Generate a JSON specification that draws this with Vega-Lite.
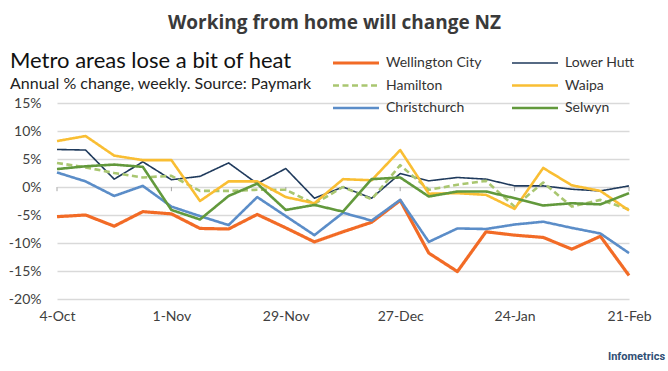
{
  "$schema": "https://vega.github.io/schema/vega-lite/v6.json",
  "width": 572,
  "height": 196,
  "autosize": "none",
  "padding": {"left": 57, "top": 103, "right": 39, "bottom": 72},
  "background": "white",
  "title": {
    "text": "Metro areas lose a bit of heat",
    "subtitle": "Annual % change, weekly. Source: Paymark",
    "anchor": "start",
    "frame": "group",
    "dx": -47,
    "dy": 86,
    "offset": 6,
    "font": "Lato",
    "fontSize": 22,
    "fontWeight": "normal",
    "color": "#111111",
    "subtitleFont": "Lato",
    "subtitleFontSize": 16,
    "subtitleColor": "#222222",
    "subtitlePadding": 3
  },
  "config": {
    "font": "Lato",
    "view": {"stroke": null},
    "axisY": {
      "tickCount": 8,
      "labelOverlap": false,
      "labelBound": false,
      "labelFlush": false,
      "grid": true,
      "gridColor": "#d9d9d9",
      "gridWidth": 1.3,
      "domain": false,
      "ticks": false,
      "labelPadding": 16,
      "labelFontSize": 14,
      "labelColor": "#404040",
      "labelFont": "Lato"
    }
  },
  "layer": [
    {
      "mark": {"type": "rule", "color": "#a6a6a6", "strokeWidth": 1.3},
      "encoding": {
        "y": {
          "datum": 0,
          "type": "quantitative",
          "scale": {"domain": [-20, 15], "nice": false, "zero": false},
          "axis": {
            "values": [-20, -15, -10, -5, 0, 5, 10, 15],
            "labelExpr": "datum.value + '%'",
            "title": "Working from home will change NZ",
            "titleAngle": 0,
            "titleX": 277,
            "titleY": -81,
            "titleAlign": "center",
            "titleBaseline": "middle",
            "titleFont": "Open Sans",
            "titleFontSize": 19,
            "titleFontWeight": "bold",
            "titleColor": "#3a3a3a"
          }
        }
      }
    },
    {
      "data": {"values": [
        {"date": "2020-10-04"}, {"date": "2020-11-01"}, {"date": "2020-11-29"},
        {"date": "2020-12-27"}, {"date": "2021-01-24"}, {"date": "2021-02-21"}
      ]},
      "mark": {"type": "rule", "color": "#a6a6a6", "strokeWidth": 1},
      "encoding": {
        "x": {"field": "date", "type": "temporal", "scale": {"type": "utc"}},
        "y": {"datum": 0, "type": "quantitative"},
        "y2": {"datum": -0.75}
      }
    },
    {
      "data": {"values": [
        {"date": "2020-10-04", "region": "Wellington City", "pct": -5.3},
        {"date": "2020-10-11", "region": "Wellington City", "pct": -5.0},
        {"date": "2020-10-18", "region": "Wellington City", "pct": -7.0},
        {"date": "2020-10-25", "region": "Wellington City", "pct": -4.4},
        {"date": "2020-11-01", "region": "Wellington City", "pct": -4.8},
        {"date": "2020-11-08", "region": "Wellington City", "pct": -7.4},
        {"date": "2020-11-15", "region": "Wellington City", "pct": -7.5},
        {"date": "2020-11-22", "region": "Wellington City", "pct": -4.9},
        {"date": "2020-11-29", "region": "Wellington City", "pct": -7.3},
        {"date": "2020-12-06", "region": "Wellington City", "pct": -9.8},
        {"date": "2020-12-13", "region": "Wellington City", "pct": -8.0},
        {"date": "2020-12-20", "region": "Wellington City", "pct": -6.3},
        {"date": "2020-12-27", "region": "Wellington City", "pct": -2.4},
        {"date": "2021-01-03", "region": "Wellington City", "pct": -11.8},
        {"date": "2021-01-10", "region": "Wellington City", "pct": -15.1},
        {"date": "2021-01-17", "region": "Wellington City", "pct": -8.0},
        {"date": "2021-01-24", "region": "Wellington City", "pct": -8.6},
        {"date": "2021-01-31", "region": "Wellington City", "pct": -9.0},
        {"date": "2021-02-07", "region": "Wellington City", "pct": -11.1},
        {"date": "2021-02-14", "region": "Wellington City", "pct": -8.8},
        {"date": "2021-02-21", "region": "Wellington City", "pct": -15.8},

        {"date": "2020-10-04", "region": "Lower Hutt", "pct": 6.7},
        {"date": "2020-10-11", "region": "Lower Hutt", "pct": 6.6},
        {"date": "2020-10-18", "region": "Lower Hutt", "pct": 1.4},
        {"date": "2020-10-25", "region": "Lower Hutt", "pct": 4.5},
        {"date": "2020-11-01", "region": "Lower Hutt", "pct": 1.3},
        {"date": "2020-11-08", "region": "Lower Hutt", "pct": 1.9},
        {"date": "2020-11-15", "region": "Lower Hutt", "pct": 4.3},
        {"date": "2020-11-22", "region": "Lower Hutt", "pct": 0.6},
        {"date": "2020-11-29", "region": "Lower Hutt", "pct": 3.3},
        {"date": "2020-12-06", "region": "Lower Hutt", "pct": -2.0},
        {"date": "2020-12-13", "region": "Lower Hutt", "pct": 0.0},
        {"date": "2020-12-20", "region": "Lower Hutt", "pct": -2.0},
        {"date": "2020-12-27", "region": "Lower Hutt", "pct": 2.4},
        {"date": "2021-01-03", "region": "Lower Hutt", "pct": 1.1},
        {"date": "2021-01-10", "region": "Lower Hutt", "pct": 1.7},
        {"date": "2021-01-17", "region": "Lower Hutt", "pct": 1.4},
        {"date": "2021-01-24", "region": "Lower Hutt", "pct": 0.2},
        {"date": "2021-01-31", "region": "Lower Hutt", "pct": 0.2},
        {"date": "2021-02-07", "region": "Lower Hutt", "pct": -0.4},
        {"date": "2021-02-14", "region": "Lower Hutt", "pct": -0.7},
        {"date": "2021-02-21", "region": "Lower Hutt", "pct": 0.2},

        {"date": "2020-10-04", "region": "Hamilton", "pct": 4.3},
        {"date": "2020-10-11", "region": "Hamilton", "pct": 3.5},
        {"date": "2020-10-18", "region": "Hamilton", "pct": 2.5},
        {"date": "2020-10-25", "region": "Hamilton", "pct": 1.7},
        {"date": "2020-11-01", "region": "Hamilton", "pct": 2.0},
        {"date": "2020-11-08", "region": "Hamilton", "pct": -0.7},
        {"date": "2020-11-15", "region": "Hamilton", "pct": -0.7},
        {"date": "2020-11-22", "region": "Hamilton", "pct": -0.5},
        {"date": "2020-11-29", "region": "Hamilton", "pct": -0.5},
        {"date": "2020-12-06", "region": "Hamilton", "pct": -3.0},
        {"date": "2020-12-13", "region": "Hamilton", "pct": 0.0},
        {"date": "2020-12-20", "region": "Hamilton", "pct": -2.2},
        {"date": "2020-12-27", "region": "Hamilton", "pct": 3.9},
        {"date": "2021-01-03", "region": "Hamilton", "pct": -0.5},
        {"date": "2021-01-10", "region": "Hamilton", "pct": 0.4},
        {"date": "2021-01-17", "region": "Hamilton", "pct": 1.1},
        {"date": "2021-01-24", "region": "Hamilton", "pct": -3.5},
        {"date": "2021-01-31", "region": "Hamilton", "pct": 0.8},
        {"date": "2021-02-07", "region": "Hamilton", "pct": -3.5},
        {"date": "2021-02-14", "region": "Hamilton", "pct": -2.3},
        {"date": "2021-02-21", "region": "Hamilton", "pct": -4.0},

        {"date": "2020-10-04", "region": "Waipa", "pct": 8.2},
        {"date": "2020-10-11", "region": "Waipa", "pct": 9.1},
        {"date": "2020-10-18", "region": "Waipa", "pct": 5.6},
        {"date": "2020-10-25", "region": "Waipa", "pct": 4.8},
        {"date": "2020-11-01", "region": "Waipa", "pct": 4.8},
        {"date": "2020-11-08", "region": "Waipa", "pct": -2.5},
        {"date": "2020-11-15", "region": "Waipa", "pct": 1.0},
        {"date": "2020-11-22", "region": "Waipa", "pct": 1.0},
        {"date": "2020-11-29", "region": "Waipa", "pct": -1.8},
        {"date": "2020-12-06", "region": "Waipa", "pct": -2.9},
        {"date": "2020-12-13", "region": "Waipa", "pct": 1.4},
        {"date": "2020-12-20", "region": "Waipa", "pct": 1.2},
        {"date": "2020-12-27", "region": "Waipa", "pct": 6.6},
        {"date": "2021-01-03", "region": "Waipa", "pct": -1.2},
        {"date": "2021-01-10", "region": "Waipa", "pct": -1.1},
        {"date": "2021-01-17", "region": "Waipa", "pct": -1.4},
        {"date": "2021-01-24", "region": "Waipa", "pct": -3.9},
        {"date": "2021-01-31", "region": "Waipa", "pct": 3.4},
        {"date": "2021-02-07", "region": "Waipa", "pct": 0.3},
        {"date": "2021-02-14", "region": "Waipa", "pct": -0.7},
        {"date": "2021-02-21", "region": "Waipa", "pct": -4.2},

        {"date": "2020-10-04", "region": "Christchurch", "pct": 2.6},
        {"date": "2020-10-11", "region": "Christchurch", "pct": 1.0},
        {"date": "2020-10-18", "region": "Christchurch", "pct": -1.6},
        {"date": "2020-10-25", "region": "Christchurch", "pct": 0.2},
        {"date": "2020-11-01", "region": "Christchurch", "pct": -3.5},
        {"date": "2020-11-08", "region": "Christchurch", "pct": -5.2},
        {"date": "2020-11-15", "region": "Christchurch", "pct": -6.8},
        {"date": "2020-11-22", "region": "Christchurch", "pct": -1.8},
        {"date": "2020-11-29", "region": "Christchurch", "pct": -5.2},
        {"date": "2020-12-06", "region": "Christchurch", "pct": -8.6},
        {"date": "2020-12-13", "region": "Christchurch", "pct": -4.6},
        {"date": "2020-12-20", "region": "Christchurch", "pct": -6.0},
        {"date": "2020-12-27", "region": "Christchurch", "pct": -2.3},
        {"date": "2021-01-03", "region": "Christchurch", "pct": -9.8},
        {"date": "2021-01-10", "region": "Christchurch", "pct": -7.4},
        {"date": "2021-01-17", "region": "Christchurch", "pct": -7.5},
        {"date": "2021-01-24", "region": "Christchurch", "pct": -6.7},
        {"date": "2021-01-31", "region": "Christchurch", "pct": -6.2},
        {"date": "2021-02-07", "region": "Christchurch", "pct": -7.3},
        {"date": "2021-02-14", "region": "Christchurch", "pct": -8.3},
        {"date": "2021-02-21", "region": "Christchurch", "pct": -11.8},

        {"date": "2020-10-04", "region": "Selwyn", "pct": 3.2},
        {"date": "2020-10-11", "region": "Selwyn", "pct": 3.7},
        {"date": "2020-10-18", "region": "Selwyn", "pct": 4.0},
        {"date": "2020-10-25", "region": "Selwyn", "pct": 3.6},
        {"date": "2020-11-01", "region": "Selwyn", "pct": -4.1},
        {"date": "2020-11-08", "region": "Selwyn", "pct": -5.8},
        {"date": "2020-11-15", "region": "Selwyn", "pct": -1.6},
        {"date": "2020-11-22", "region": "Selwyn", "pct": 0.6},
        {"date": "2020-11-29", "region": "Selwyn", "pct": -4.1},
        {"date": "2020-12-06", "region": "Selwyn", "pct": -3.2},
        {"date": "2020-12-13", "region": "Selwyn", "pct": -4.4},
        {"date": "2020-12-20", "region": "Selwyn", "pct": 1.4},
        {"date": "2020-12-27", "region": "Selwyn", "pct": 1.7},
        {"date": "2021-01-03", "region": "Selwyn", "pct": -1.7},
        {"date": "2021-01-10", "region": "Selwyn", "pct": -0.8},
        {"date": "2021-01-17", "region": "Selwyn", "pct": -0.8},
        {"date": "2021-01-24", "region": "Selwyn", "pct": -2.0},
        {"date": "2021-01-31", "region": "Selwyn", "pct": -3.3},
        {"date": "2021-02-07", "region": "Selwyn", "pct": -2.9},
        {"date": "2021-02-14", "region": "Selwyn", "pct": -3.1},
        {"date": "2021-02-21", "region": "Selwyn", "pct": -1.1}
      ]},
      "mark": {"type": "line", "strokeJoin": "round", "strokeCap": "butt"},
      "encoding": {
        "x": {
          "field": "date",
          "type": "temporal",
          "scale": {"type": "utc", "domain": [{"year": 2020, "month": 10, "date": 4, "utc": true}, {"year": 2021, "month": 2, "date": 21, "utc": true}]},
          "axis": {
            "values": [
              {"year": 2020, "month": 10, "date": 4, "utc": true},
              {"year": 2020, "month": 11, "date": 1, "utc": true},
              {"year": 2020, "month": 11, "date": 29, "utc": true},
              {"year": 2020, "month": 12, "date": 27, "utc": true},
              {"year": 2021, "month": 1, "date": 24, "utc": true},
              {"year": 2021, "month": 2, "date": 21, "utc": true}
            ],
            "format": "%-d-%b",
            "grid": false,
            "domain": false,
            "ticks": false,
            "labelPadding": 10,
            "labelFontSize": 14,
            "labelColor": "#404040",
            "labelFont": "Lato",
            "labelOverlap": false,
            "labelFlush": false,
            "labelBound": false,
            "title": "Infometrics",
            "titleX": 579,
            "titleY": 57,
            "titleAlign": "center",
            "titleBaseline": "middle",
            "titleFont": "Roboto",
            "titleFontSize": 11,
            "titleFontWeight": "bold",
            "titleColor": "#2f4e74"
          }
        },
        "y": {
          "field": "pct",
          "type": "quantitative",
          "scale": {"domain": [-20, 15], "nice": false, "zero": false},
          "axis": {
            "values": [-20, -15, -10, -5, 0, 5, 10, 15],
            "labelExpr": "datum.value + '%'",
            "title": "Working from home will change NZ",
            "titleAngle": 0,
            "titleX": 277,
            "titleY": -81,
            "titleAlign": "center",
            "titleBaseline": "middle",
            "titleFont": "Open Sans",
            "titleFontSize": 19,
            "titleFontWeight": "bold",
            "titleColor": "#3a3a3a"
          }
        },
        "color": {
          "field": "region",
          "type": "nominal",
          "scale": {
            "domain": ["Wellington City", "Lower Hutt", "Hamilton", "Waipa", "Christchurch", "Selwyn"],
            "range": ["#f26b26", "#1f3a5c", "#a9c670", "#f9be33", "#5b8dc8", "#62993c"]
          },
          "legend": {
            "orient": "none",
            "direction": "horizontal",
            "legendX": 274,
            "legendY": -47,
            "columns": 2,
            "title": null,
            "symbolType": "M-1,0H8.2",
            "symbolSize": 100,
            "labelFontSize": 14,
            "labelFont": "Lato",
            "labelColor": "#333333",
            "labelOffset": 41,
            "columnPadding": 24,
            "rowPadding": 8.5,
            "labelLimit": 200
          }
        },
        "strokeDash": {
          "field": "region",
          "type": "nominal",
          "scale": {
            "domain": ["Wellington City", "Lower Hutt", "Hamilton", "Waipa", "Christchurch", "Selwyn"],
            "range": [[1, 0], [1, 0], [6, 3.5], [1, 0], [1, 0], [1, 0]]
          }
        },
        "strokeWidth": {
          "field": "region",
          "type": "nominal",
          "scale": {
            "type": "ordinal",
            "domain": ["Wellington City", "Lower Hutt", "Hamilton", "Waipa", "Christchurch", "Selwyn"],
            "range": [3.2, 1.6, 2.6, 2.6, 2.6, 2.6]
          }
        }
      }
    }
  ]
}
